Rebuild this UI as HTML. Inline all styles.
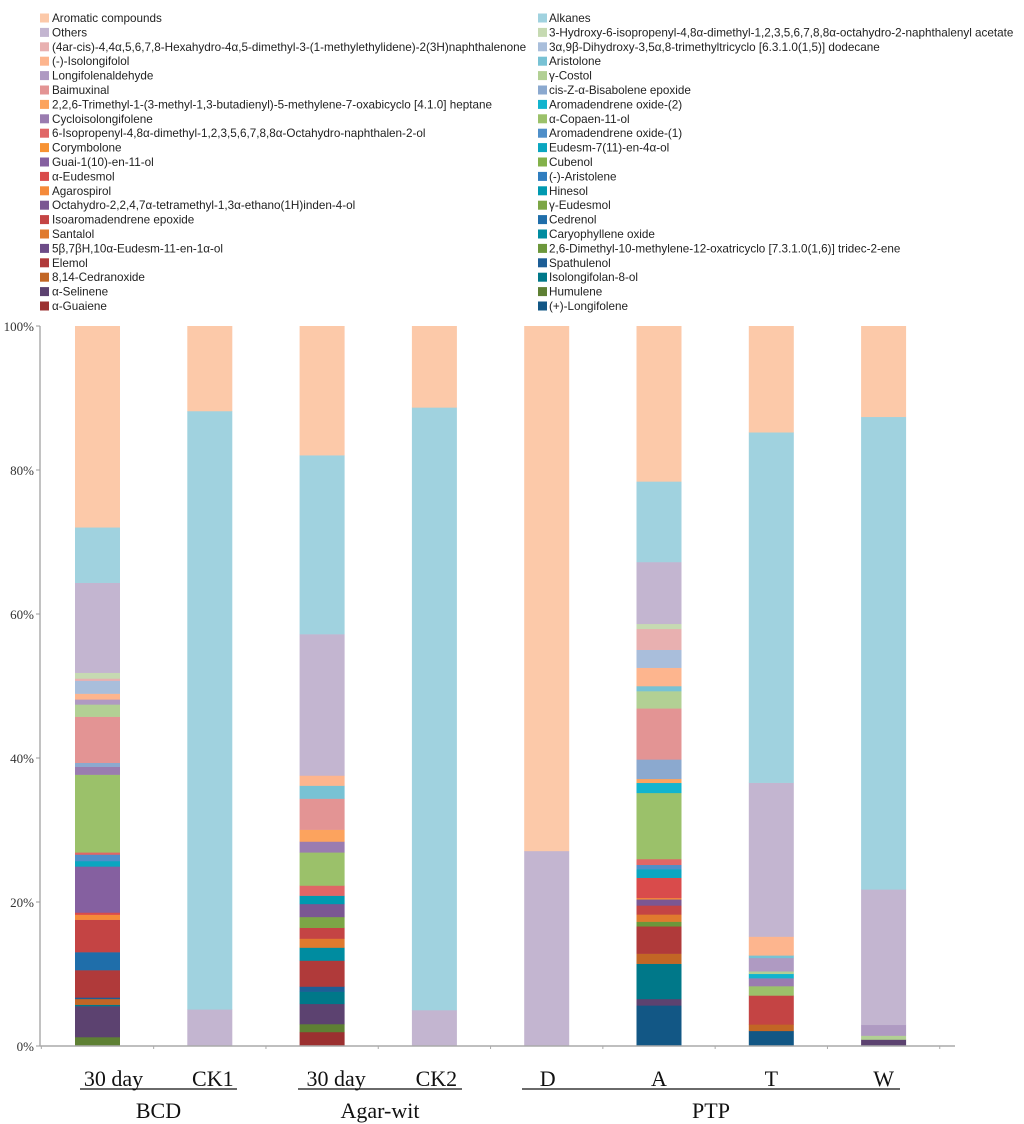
<!DOCTYPE html>
<html><head><meta charset="utf-8">
<style>
html,body{margin:0;padding:0;background:#fff;}
svg{display:block;}
.lg{font-family:"Liberation Sans",sans-serif;font-size:11.7px;fill:#222;}
.tk{font-family:"Liberation Serif",serif;font-size:13px;fill:#333;}
.cat{font-family:"Liberation Serif",serif;font-size:22px;fill:#111;}
</style></head>
<body>
<svg id="chart" width="1024" height="1124" viewBox="0 0 1024 1124" xmlns="http://www.w3.org/2000/svg"></svg>
<script>
// series order, bottom of stack first
const seriesNames = ["(+)-Longifolene","α-Guaiene","Humulene","α-Selinene","Isolongifolan-8-ol","8,14-Cedranoxide","Spathulenol","Elemol","2,6-Dimethyl-10-methylene-12-oxatricyclo [7.3.1.0(1,6)] tridec-2-ene","5β,7βH,10α-Eudesm-11-en-1α-ol","Caryophyllene oxide","Santalol","Cedrenol","Isoaromadendrene epoxide","γ-Eudesmol","Octahydro-2,2,4,7α-tetramethyl-1,3α-ethano(1H)inden-4-ol","Hinesol","Agarospirol","(-)-Aristolene","α-Eudesmol","Cubenol","Guai-1(10)-en-11-ol","Eudesm-7(11)-en-4α-ol","Corymbolone","Aromadendrene oxide-(1)","6-Isopropenyl-4,8α-dimethyl-1,2,3,5,6,7,8,8α-Octahydro-naphthalen-2-ol","α-Copaen-11-ol","Cycloisolongifolene","Aromadendrene oxide-(2)","2,2,6-Trimethyl-1-(3-methyl-1,3-butadienyl)-5-methylene-7-oxabicyclo [4.1.0] heptane","cis-Z-α-Bisabolene epoxide","Baimuxinal","γ-Costol","Longifolenaldehyde","Aristolone","(-)-Isolongifolol","3α,9β-Dihydroxy-3,5α,8-trimethyltricyclo [6.3.1.0(1,5)] dodecane","(4ar-cis)-4,4α,5,6,7,8-Hexahydro-4α,5-dimethyl-3-(1-methylethylidene)-2(3H)naphthalenone","3-Hydroxy-6-isopropenyl-4,8α-dimethyl-1,2,3,5,6,7,8,8α-octahydro-2-naphthalenyl acetate","Others","Alkanes","Aromatic compounds"];
const seriesColors = ["#125785","#9B3030","#5E8034","#5C4270","#007889","#C26625","#1D5E96","#B03A3A","#6C973B","#6D4C88","#008CA0","#E07A2E","#1F6EAA","#C44444","#7CA646","#7B5792","#0099B0","#F58A3A","#2F7DBF","#D94B4B","#83B14A","#8560A0","#0AA6C0","#F79233","#4F8FC9","#E06666","#9BC16A","#9A7CB0","#12B4CE","#FCA35E","#8BA9CF","#E39494","#B2D094","#AF9AC2","#78C2D4","#FDB58E","#A9BEDB","#E8B0B0","#C6DAB2","#C3B5D0","#A0D2DF","#FCC9A9"];
const categories = ["30 day","CK1","30 day","CK2","D","A","T","W"];
const groups = ["BCD","Agar-wit","PTP"];
const yTicks = [0,20,40,60,80,100];
// values (%) per bar, one entry per series in the order above
const bar30dayBCD = [0,0,1.25,4.3,0.2,0.8,0.2,3.8,0,0, 0,0,2.5,4.5,0,0,0,0.7,0,0.3, 0,6.4,0.75,0,0.9,0.3,10.8,1.1,0,0, 0.55,6.4,1.7,0.7,0,0.8,1.8,0.3,0.8,12.5, 7.7,27.95];
const barCK1 = [0,0,0,0,0,0,0,0,0,0, 0,0,0,0,0,0,0,0,0,0, 0,0,0,0,0,0,0,0,0,0, 0,0,0,0,0,0,0,0,0,5.1, 83.1,11.8];
const bar30dayAgar = [0,1.95,1.1,2.8,1.7,0,0.7,3.6,0,0, 1.8,1.25,0,1.5,1.5,1.8,1.15,0,0,0, 0,0,0,0,0,1.4,4.6,1.5,0,1.65, 0,4.3,0,0,1.8,1.4,0,0,0,19.6, 24.8,17.9];
const barCK2 = [0,0,0,0,0,0,0,0,0,0, 0,0,0,0,0,0,0,0,0,0, 0,0,0,0,0,0,0,0,0,0, 0,0,0,0,0,0,0,0,0,5.0, 83.7,11.3];
const barD = [0,0,0,0,0,0,0,0,0,0, 0,0,0,0,0,0,0,0,0,0, 0,0,0,0,0,0,0,0,0,0, 0,0,0,0,0,0,0,0,0,27.1, 0,72.9];
const barA = [5.65,0,0,0.9,4.9,1.4,0,3.8,0.65,0, 0,1.0,0,1.25,0,0.85,0,0.2,0,2.8, 0,0,1.2,0,0.6,0.8,9.2,0,1.4,0.55, 2.7,7.1,2.4,0,0.7,2.55,2.5,2.9,0.7,8.6, 11.2,21.6];
const barT = [2.1,0,0,0,0,0.9,0,0,0,0, 0,0,0,4.0,0,0,0,0,0,0, 0,0,0,0,0,0,1.3,1.1,0.6,0, 0,0,0.35,1.85,0.35,2.6,0,0,0,21.3, 48.5,14.7];
const barW = [0,0,0,0.9,0,0,0,0,0,0, 0,0,0,0,0,0,0,0,0,0, 0,0,0,0,0,0,0,0,0,0, 0,0,0.55,1.5,0,0,0,0,0,18.8, 65.6,12.6];
const barValues = [bar30dayBCD,barCK1,bar30dayAgar,barCK2,barD,barA,barT,barW];

const NS="http://www.w3.org/2000/svg";
const svg=document.getElementById('chart');
function mk(tag,attrs,parent){const e=document.createElementNS(NS,tag);for(const k in attrs)e.setAttribute(k,attrs[k]);(parent||svg).appendChild(e);return e;}
const X0=40, Y0=1046, Y1=326, BW=45, STEP=112.3, FIRST=97.5;
const xC=i=>FIRST+i*STEP;
const yS=v=>Y0-(v/100)*(Y0-Y1);
const labelOffset=[16,3,14,2,1,0,0,0];

// legend
const lg=mk('g',{});


for(let r=0;r<21;r++){
  [[41-2*r,40,52],[40-2*r,538,549]].forEach(([si,sx,tx])=>{
    const yc=18+r*14.4;
    const g=mk('g',{},lg);
    
    
    mk('rect',{x:sx,y:yc-4.5,width:9,height:9,fill:seriesColors[si]},g);
    const t=mk('text',{x:tx,y:yc+4,class:'lg'},g);
    t.textContent=seriesNames[si];
  });
}

// y axis
const ya=mk('g',{});


mk('line',{x1:X0,y1:Y1,x2:X0,y2:Y0,stroke:'#999','stroke-width':1.2},ya);
yTicks.forEach(v=>{
  mk('line',{x1:X0-4,y1:yS(v),x2:X0,y2:yS(v),stroke:'#999'},ya);
  const t=mk('text',{x:X0-6,y:yS(v)+5,'text-anchor':'end',class:'tk'},ya);
  
  
  t.textContent=v+'%';
});

// bars (100% stacked: normalised to each bar's total)
barValues.forEach((vals,i)=>{
  const g=mk('g',{});
  
  
  const tot=vals.reduce((a,b)=>a+b,0)||1;
  let cum=0;
  vals.forEach((v,si)=>{
    if(v<=0)return;
    const p=v/tot*100;
    const r=mk('rect',{x:xC(i)-BW/2,y:yS(cum+p),width:BW,height:yS(cum)-yS(cum+p)+0.3,fill:seriesColors[si]},g);
    
    
    cum+=p;
  });
});

// x axis
const xa=mk('g',{});


mk('line',{x1:X0,y1:Y0,x2:955,y2:Y0,stroke:'#aaa','stroke-width':1.5},xa);
for(let i=0;i<=categories.length;i++){
  const tx=xC(i)-STEP/2;
  mk('line',{x1:tx,y1:Y0,x2:tx,y2:Y0+3,stroke:'#aaa'},xa);
}
categories.forEach((c,i)=>{
  const t=mk('text',{x:xC(i)+labelOffset[i],y:1086,'text-anchor':'middle',class:'cat'},xa);
  
  
  t.textContent=c;
});
const grpSpan=[[0,1,80,237],[2,3,298,462],[4,7,522,900]];
grpSpan.forEach(([a,b,l,r],gi)=>{
  mk('line',{x1:l,y1:1089,x2:r,y2:1089,stroke:'#111','stroke-width':1.2},xa);
  const t=mk('text',{x:(l+r)/2,y:1118,'text-anchor':'middle',class:'cat'},xa);
  
  
  t.textContent=groups[gi];
});
</script>
</body></html>
